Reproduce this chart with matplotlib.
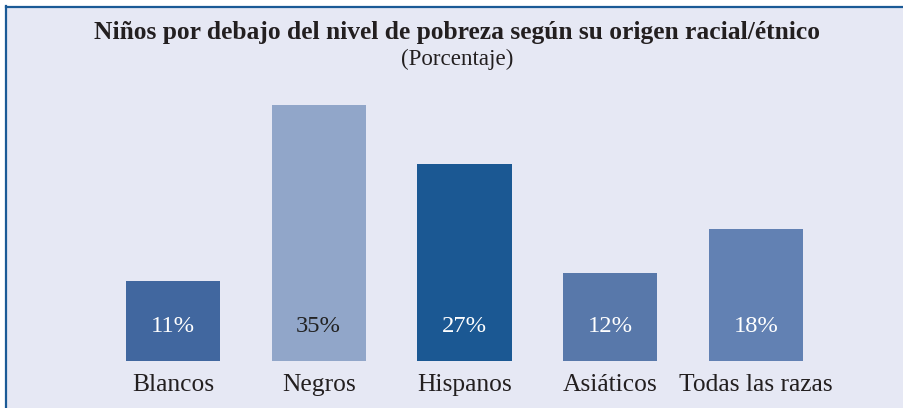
import matplotlib
matplotlib.use("Agg")
import matplotlib.pyplot as plt
from matplotlib.patches import Rectangle
from matplotlib.lines import Line2D

categories = ["Blancos", "Negros", "Hispanos", "Asiáticos", "Todas las razas"]
values = [11, 35, 27, 12, 18]
value_labels = ["11%", "35%", "27%", "12%", "18%"]
bar_colors = ["#41679F", "#91A6C9", "#1B5893", "#5878AA", "#6281B3"]
label_colors = ["white", "#222222", "white", "white", "white"]

title = "Niños por debajo del nivel de pobreza según su origen racial/étnico"
subtitle = "(Porcentaje)"

W, H = 904, 408
DPI = 100
fig = plt.figure(figsize=(W / DPI, H / DPI), dpi=DPI)
fig.patch.set_facecolor("white")

bg = "#E6E8F4"
border = "#1B5A96"
# panel background and frame (top and left rules)
fig.patches.append(Rectangle((6 / W, 0), 1, 1 - 6 / H, transform=fig.transFigure,
                             facecolor=bg, edgecolor="none", zorder=-2))
fig.lines.append(Line2D([6 / W, 1], [1 - 6.5 / H, 1 - 6.5 / H], transform=fig.transFigure,
                        color=border, linewidth=1.6, zorder=-1))
fig.lines.append(Line2D([6.5 / W, 6.5 / W], [0, 1 - 6 / H], transform=fig.transFigure,
                        color=border, linewidth=1.6, zorder=-1))

serif = ["Liberation Serif", "DejaVu Serif"]

# axes: baseline at y=361px, top of tallest bar at y=105px
left_px, right_px = 100.1, 828.9
bottom_px, top_px = 361, 105
ax = fig.add_axes([left_px / W, (H - bottom_px) / H,
                   (right_px - left_px) / W, (bottom_px - top_px) / H])
ax.set_zorder(2)
ax.set_facecolor("none")
x = list(range(len(categories)))
ax.bar(x, values, width=0.645, color=bar_colors, edgecolor="none")
ax.set_xlim(-0.5, len(categories) - 0.5)
ax.set_ylim(0, max(values))
ax.axis("off")

px2pt = 72 / DPI
for i, (lab, col, cat) in enumerate(zip(value_labels, label_colors, categories)):
    ax.annotate(lab, xy=(i, 0), xycoords=("data", "data"),
                xytext=(0, 29 * px2pt), textcoords="offset points",
                ha="center", va="baseline", color=col,
                fontsize=24.5 * px2pt, family=serif, annotation_clip=False)
    ax.annotate(cat, xy=(i, 0), xycoords=("data", "data"),
                xytext=(0, -30 * px2pt), textcoords="offset points",
                ha="center", va="baseline", color="#231F20",
                fontsize=25.5 * px2pt, family=serif, annotation_clip=False)

fig.text(457 / W, 1 - 39 / H, title, ha="center", va="baseline",
         fontsize=25.5 * px2pt, fontweight="bold", family=serif, color="#231F20")
fig.text(457 / W, 1 - 65 / H, subtitle, ha="center", va="baseline",
         fontsize=23 * px2pt, family=serif, color="#231F20")

fig.savefig("out.png", dpi=DPI, facecolor=fig.get_facecolor())
